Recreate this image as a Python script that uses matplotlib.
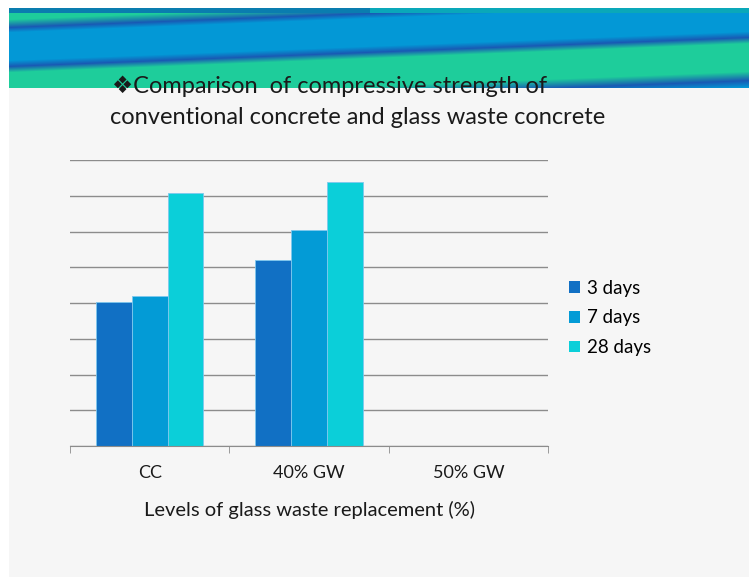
import matplotlib
matplotlib.use('Agg')
import matplotlib.pyplot as plt
import numpy as np
from matplotlib.patches import Rectangle, Patch

# data
categories = ['CC', '40% GW', '50% GW']
series = ['3 days', '7 days', '28 days']
days_3 = [4.02, 5.19, np.nan]
days_7 = [4.20, 6.03, np.nan]
days_28 = [7.07, 7.39, np.nan]
colors = ['#1170c4', '#039bd6', '#0bcfd9']

title_1 = '\u2756Comparison  of compressive strength of'
title_2 = 'conventional concrete and glass waste concrete'
xlabel = 'Levels of glass waste replacement (%)'

fam = ['Lato', 'DejaVu Sans']
plt.rcParams['font.family'] = fam

W, H = 749, 577
fig = plt.figure(figsize=(W / 100, H / 100), dpi=100)
fig.patch.set_facecolor('white')

# slide background
bg = fig.add_axes([0, 0, 1, 1], zorder=-10)
bg.set_axis_off()
bg.set_xlim(0, W)
bg.set_ylim(H, 0)
bg.add_patch(Rectangle((9, 8), W - 9, H - 8, facecolor='#f6f6f6', edgecolor='none'))

# banner with diagonal stripes
bx = fig.add_axes([9 / W, 1 - 88 / H, 1 - 9 / W, 80 / H], zorder=-5)
bx.set_axis_off()
xs = np.arange(9, W)
ys = np.arange(8, 88)
X, Y = np.meshgrid(xs, ys)
u = Y + 29 * (X - 9) / 740
stops = [0, 14, 19, 27, 32, 60, 66, 72, 100, 109, 116, 130]
green = np.array([30, 205, 155])
blue = np.array([3, 152, 214])
dark = np.array([25, 90, 180])
cols = [green, green, green, dark, blue, blue, dark, green, green, dark, blue, blue]
img = np.zeros(u.shape + (3,))
for c in range(3):
    img[..., c] = np.interp(u, stops, [k[c] for k in cols])
top = Y < 13
img[top] = np.where((X[top] < 370)[:, None], [10, 125, 175], [10, 168, 185])
bx.imshow(img.astype(np.uint8), aspect='auto', interpolation='bilinear')

fig.text(112 / W, 1 - 86 / H, title_1, fontsize=17, va='center', ha='left', color='#1a1a1a')
fig.text(110 / W, 1 - 117 / H, title_2, fontsize=17, va='center', ha='left', color='#1a1a1a')

ax = fig.add_axes([70 / W, 1 - 446 / H, (548 - 70) / W, (446 - 160) / H])
ax.set_facecolor('none')
x = np.arange(len(categories))
w = 0.224
for i, vals in enumerate([days_3, days_7, days_28]):
    ax.bar(x + (i - 1) * w, vals, w, color=colors[i], edgecolor='#7fc8ee', linewidth=0.6,
           zorder=3, label=series[i])

ax.set_xlim(-0.5, 2.5)
ax.set_ylim(0, 8)
ax.set_yticks(np.arange(0, 9))
ax.set_yticklabels([])
ax.tick_params(axis='y', length=0)
ax.grid(axis='y', color='#8c8c8c', linewidth=1, zorder=0)
for s in ['left', 'right', 'top']:
    ax.spines[s].set_visible(False)
ax.spines['bottom'].set_color('#8c8c8c')
ax.spines['bottom'].set_zorder(4)
ax.set_xticks(x)
ax.set_xticklabels(categories, fontsize=13, color='#1a1a1a')
ax.tick_params(axis='x', which='major', length=0, pad=14)
ax.set_xticks([-0.5, 0.5, 1.5, 2.5], minor=True)
ax.tick_params(axis='x', which='minor', length=5, color='#8c8c8c')
ax.set_xlabel(xlabel, fontsize=14.5, color='#1a1a1a', labelpad=14)

handles = [Patch(facecolor=c, edgecolor='none') for c in colors]
fig.legend(handles, series, loc='center left', bbox_to_anchor=(560 / W, 1 - 318 / H),
           frameon=False, fontsize=13.5, handlelength=0.55, handleheight=0.55,
           handletextpad=0.4, labelspacing=0.68, borderpad=0)

fig.savefig('out.png', dpi=100, facecolor=fig.get_facecolor())
